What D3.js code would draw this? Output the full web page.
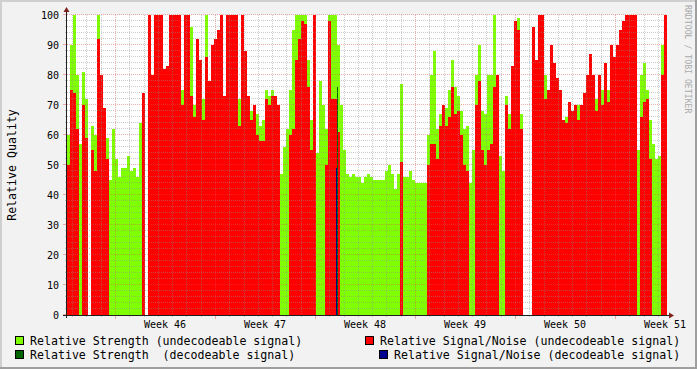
<!DOCTYPE html>
<html>
<head>
<meta charset="utf-8">
<script src="https://cdn.jsdelivr.net/npm/d3@7"></script>
<style>
  body { margin: 0; background: #f2f2f2; }
  svg { display: block; }
  text { font-family: "DejaVu Sans Mono", monospace; }
</style>
</head>
<body>
<svg width="697" height="369"></svg>
<script>
// days counted from the start of week 46, one sample every 0.21 day
const sampleStart = -3.36,
    sampleStep = 0.21;

const weekLabels = ["Week 46", "Week 47", "Week 48", "Week 49", "Week 50", "Week 51"];
const yTicks = [0, 10, 20, 30, 40, 50, 60, 70, 80, 90, 100];

// Relative Strength (undecodeable signal)
const strength = [
  60, 90, 100, 80, 57, 81, 72, null, 63, 60,
  100, 78, 65, 59, 45, 62, 52, 46, 49, 49,
  53, 48, 49, 46, 64, 72, null, 60, 62, 64,
  62, 61, 63, 60, 65, 62, 63, 64, 75, 62,
  60, 96, 70, 64, 66, 72, 100, 70, 66, 64,
  62, 60, 62, 60, 63, 61, 62, 72, 60, 88,
  70, 68, 68, 67, 63, 65, 75, 73, 75, 70,
  66, 47, 56, 62, 75, 95, 100, 100, 100, 100,
  85, 65, 100, 54, 78, 70, 62, 100, 100, 100,
  90, 70, 55, 47, 46, 47, 46, 46, 44, 46,
  47, 46, 45, 45, 45, 45, 48, 50, 47, 42,
  47, 77, 46, 46, 48, 45, 44, 44, 44, 44,
  60, 80, 88, 62, 67, 68, 69, 75, 85, 76,
  73, 68, 62, 63, 44, 55, 80, 90, 68, 67,
  80, 80, 100, 70, 53, 48, 73, 67, 70, 65,
  99, 67, null, null, null, 62, 70, 65, 63, 80,
  66, 64, 62, 60, 62, 64, 66, 70, 62, 64,
  70, 65, 62, 63, 60, 62, 72, 64, 75, 66,
  75, 64, 62, 65, 60, 62, 63, 61, 60, 62,
  55, 80, 84, 75, 65, 57, 52, 53, 90, 100
];

// Relative Signal/Noise (undecodeable signal)
const snr = [
  50, 75, 74, 62, null, 70, 59, null, 55, 48,
  92, 80, 69, 52, null, null, null, null, null, null,
  null, null, null, null, null, 74, null, 100, 80, 100,
  100, 100, 82, 83, 100, 100, 100, 100, 70, 100,
  100, 73, 66, 92, 85, 65, 86, 78, 90, 92,
  95, 100, 73, 100, 100, 100, 100, 63, 100, 88,
  73, 65, 70, 60, 58, 58, 72, 70, 73, 73,
  70, null, null, null, 60, 62, 85, 92, 98, 97,
  76, 55, 100, null, null, null, 50, 98, 72, 72,
  61, null, null, null, null, null, null, null, null, null,
  null, null, null, null, null, null, null, null, null, null,
  null, 51, null, null, null, null, null, null, null, null,
  50, 57, 57, 52, 63, 70, 63, 66, 76, 67,
  68, 60, 50, 48, null, null, 70, 78, 55, 50,
  55, 57, 76, 80, null, null, 70, 62, 83, 98,
  95, 62, null, null, null, 96, 85, 100, 100, 72,
  75, 90, 84, 79, 75, 65, 64, 71, 68, 70,
  65, 70, 74, 80, 87, 80, 68, 80, 70, 84,
  71, 90, 86, 90, 95, 98, 100, 100, 100, 100,
  null, 66, 71, 72, 52, null, null, null, 80, 100
];

// decodeable signal: only a couple of readings, [day, value]
const decStrength = [[15.55, 76]];
const decSnr = [[15.47, 49]];

const legendLabels = [
  "Relative Strength (undecodeable signal)",
  "Relative Signal/Noise (undecodeable signal)",
  "Relative Strength  (decodeable signal)",
  "Relative Signal/Noise (decodeable signal)"
];
const legendColors = ["#7fff00", "#ff0000", "#006400", "#000090"];

const svg = d3.select("svg"),
    width = +svg.attr("width"),
    height = +svg.attr("height");

const x = d3.scaleLinear()
    .domain([sampleStart, sampleStart + strength.length * sampleStep])
    .range([67, 667]);
const y = d3.scaleLinear().domain([0, 100]).range([315, 15]);

// frame shading
svg.append("rect").attr("width", width).attr("height", height).attr("fill", "#f2f2f2");
svg.append("rect").attr("width", width).attr("height", 2).attr("fill", "#cfcfcf");
svg.append("rect").attr("width", 2).attr("height", height).attr("fill", "#cfcfcf");
svg.append("rect").attr("y", height - 2).attr("width", width).attr("height", 2).attr("fill", "#9e9e9e");
svg.append("rect").attr("x", width - 2).attr("width", 2).attr("height", height).attr("fill", "#9e9e9e");

// canvas
svg.append("rect")
    .attr("x", x.range()[0]).attr("y", y.range()[1])
    .attr("width", x.range()[1] - x.range()[0])
    .attr("height", y.range()[0] - y.range()[1])
    .attr("fill", "#fff");

function drawArea(values, color) {
  const pts = values.map((v, i) => ({ t: sampleStart + i * sampleStep, v: v }))
      .filter(d => d.v != null);
  svg.append("g")
      .attr("shape-rendering", "crispEdges")
    .selectAll("rect")
    .data(pts)
    .enter().append("rect")
      .attr("x", d => x(d.t))
      .attr("width", d => x(d.t + sampleStep) - x(d.t))
      .attr("y", d => y(d.v))
      .attr("height", d => y(0) - y(d.v))
      .attr("fill", color);
}

function drawSpikes(pairs, color) {
  svg.append("g")
      .attr("shape-rendering", "crispEdges")
    .selectAll("rect")
    .data(pairs)
    .enter().append("rect")
      .attr("x", d => Math.floor(x(d[0])))
      .attr("width", 1)
      .attr("y", d => y(d[1]))
      .attr("height", d => y(0) - y(d[1]))
      .attr("fill", color);
}

drawArea(strength, legendColors[0]);
drawArea(snr, legendColors[1]);
drawSpikes(decStrength, legendColors[2]);
drawSpikes(decSnr, legendColors[3]);

// grid on top of the data, like rrdtool
const grid = svg.append("g");
const minorColor = "rgba(143,143,143,0.45)",
    majorColor = "rgba(222,79,79,0.45)";
const px = v => Math.round(v) + 0.5;

const days = d3.range(Math.ceil(sampleStart), 39);
grid.selectAll(".vminor")
    .data(days.filter(d => d % 7 !== 0))
    .enter().append("line")
    .attr("x1", d => px(x(d))).attr("x2", d => px(x(d)))
    .attr("y1", y(100)).attr("y2", y(0))
    .attr("stroke", minorColor).attr("stroke-dasharray", "1,1");
grid.selectAll(".vmajor")
    .data(days.filter(d => d % 7 === 0))
    .enter().append("line")
    .attr("x1", d => px(x(d))).attr("x2", d => px(x(d)))
    .attr("y1", y(100)).attr("y2", y(0))
    .attr("stroke", majorColor).attr("stroke-dasharray", "1,1");

const ySteps = d3.range(2, 100, 2).filter(v => v % 10 !== 0);
grid.selectAll(".hminor")
    .data(ySteps)
    .enter().append("line")
    .attr("x1", x.range()[0]).attr("x2", x.range()[1])
    .attr("y1", d => px(y(d)) - 1).attr("y2", d => px(y(d)) - 1)
    .attr("stroke", minorColor).attr("stroke-dasharray", "1,1");
grid.selectAll(".hmajor")
    .data(yTicks.slice(1))
    .enter().append("line")
    .attr("x1", x.range()[0]).attr("x2", x.range()[1])
    .attr("y1", d => px(y(d)) - 1).attr("y2", d => px(y(d)) - 1)
    .attr("stroke", majorColor).attr("stroke-dasharray", "1,1");

// ticks
grid.selectAll(".ytick")
    .data(ySteps)
    .enter().append("line")
    .attr("x1", 65).attr("x2", 67)
    .attr("y1", d => px(y(d)) - 1).attr("y2", d => px(y(d)) - 1)
    .attr("stroke", minorColor);
grid.selectAll(".ytickM")
    .data(yTicks)
    .enter().append("line")
    .attr("x1", 63).attr("x2", 67)
    .attr("y1", d => px(y(d)) - 1).attr("y2", d => px(y(d)) - 1)
    .attr("stroke", majorColor);
grid.selectAll(".xtick")
    .data(days)
    .enter().append("line")
    .attr("x1", d => px(x(d))).attr("x2", d => px(x(d)))
    .attr("y1", 315).attr("y2", d => d % 7 === 0 ? 319 : 317)
    .attr("stroke", d => d % 7 === 0 ? majorColor : minorColor);

// axes
svg.append("line")
    .attr("x1", 63).attr("x2", 670).attr("y1", 315.5).attr("y2", 315.5)
    .attr("stroke", "#1f1f1f");
svg.append("line")
    .attr("x1", 66.5).attr("x2", 66.5).attr("y1", 318).attr("y2", 11)
    .attr("stroke", "#1f1f1f");
svg.append("path")
    .attr("d", "M669,312.5L674,315.5L669,318.5Z")
    .attr("fill", "#801f1f");
svg.append("path")
    .attr("d", "M63.5,12L66.5,7L69.5,12Z")
    .attr("fill", "#801f1f");

// tick labels
svg.append("g").selectAll("text")
    .data(yTicks)
    .enter().append("text")
    .attr("x", 59)
    .attr("y", d => y(d) + 4)
    .attr("text-anchor", "end")
    .attr("font-size", "10px")
    .text(d => d);

svg.append("g").selectAll("text")
    .data(weekLabels)
    .enter().append("text")
    .attr("x", (d, i) => x(3.5 + 7 * i))
    .attr("y", 328)
    .attr("text-anchor", "middle")
    .attr("font-size", "10px")
    .text(d => d);

svg.append("text")
    .attr("transform", "translate(16," + ((y(0) + y(100)) / 2) + ") rotate(-90)")
    .attr("text-anchor", "middle")
    .attr("font-size", "11.6px")
    .text("Relative Quality");

svg.append("text")
    .attr("transform", "translate(685,5) rotate(90)")
    .attr("font-size", "8.2px")
    .attr("fill", "#aaaaaa")
    .text("RRDTOOL / TOBI OETIKER");

// legend
const legendPos = [[15, 336], [365, 336], [15, 350], [379, 350]];
const legend = svg.append("g").selectAll("g")
    .data(legendLabels)
    .enter().append("g")
    .attr("transform", (d, i) => "translate(" + legendPos[i][0] + "," + legendPos[i][1] + ")");
legend.append("rect")
    .attr("x", 0.5).attr("y", 0.5).attr("width", 8).attr("height", 8)
    .attr("fill", (d, i) => legendColors[i])
    .attr("stroke", "#000");
legend.append("text")
    .attr("x", 15).attr("y", 9)
    .attr("font-size", "11.6px")
    .style("white-space", "pre")
    .text(d => d);
</script>
</body>
</html>
